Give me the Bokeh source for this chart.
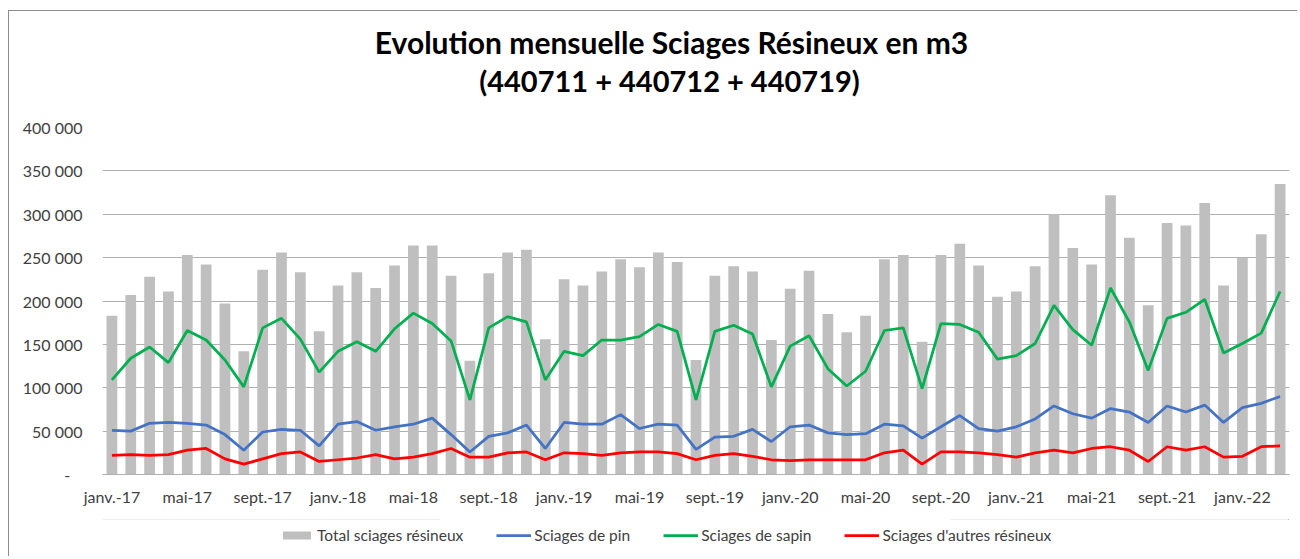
from bokeh.plotting import figure
from bokeh.layouts import column
from bokeh.models import (ColumnDataSource, FixedTicker, CustomJSTickFormatter, Legend,
                          LegendItem, Label, Range1d)
from bokeh.embed import file_html
from bokeh.resources import INLINE

# ---- data (m3) ----
month_names = ["janv.", "févr.", "mars", "avr.", "mai", "juin",
               "juil.", "août", "sept.", "oct.", "nov.", "déc."]
years = ["17", "18", "19", "20", "21", "22"]
months = [f"{m}-{y}" for y in years for m in month_names][:63]

total = [183, 207, 228, 211, 253, 242, 197, 142, 236, 256, 233, 165,
         218, 233, 215, 241, 264, 264, 229, 131, 232, 256, 259, 156,
         225, 218, 234, 248, 239, 256, 245, 132, 229, 240, 234, 155,
         214, 235, 185, 164, 183, 248, 253, 153, 253, 266, 241, 205,
         211, 240, 300, 261, 242, 322, 273, 195, 290, 287, 313, 218,
         250, 277, 335]
sapin = [109, 134, 147, 129, 166, 155, 132, 101, 169, 180, 156, 118,
         142, 153, 142, 168, 186, 174, 154, 86, 169, 182, 176, 109,
         142, 137, 155, 155, 159, 173, 165, 86, 165, 172, 162, 101,
         148, 160, 122, 102, 119, 166, 169, 99, 174, 173, 164, 133,
         137, 151, 195, 167, 149, 215, 176, 120, 180, 187, 202, 140,
         151, 163, 211]
pin = [51, 50, 59, 60, 59, 57, 46, 28, 49, 52, 51, 33,
       58, 61, 51, 55, 58, 65, 46, 26, 44, 48, 57, 30,
       60, 58, 58, 69, 53, 58, 57, 29, 43, 44, 52, 38,
       55, 57, 48, 46, 47, 58, 56, 42, 55, 68, 53, 50,
       55, 64, 79, 70, 65, 76, 72, 60, 79, 72, 80, 60,
       77, 82, 90]
autres = [22, 23, 22, 23, 28, 30, 18, 12, 18, 24, 26, 15,
          17, 19, 23, 18, 20, 24, 30, 20, 20, 25, 26, 17,
          25, 24, 22, 25, 26, 26, 24, 17, 22, 24, 21, 17,
          16, 17, 17, 17, 17, 25, 28, 12, 26, 26, 25, 23,
          20, 25, 28, 25, 30, 32, 28, 15, 32, 28, 32, 20,
          21, 32, 33]
y_ticks = [0, 50000, 100000, 150000, 200000, 250000, 300000, 350000, 400000]
title_lines = ["Evolution mensuelle Sciages Résineux en m3",
               "(440711 + 440712 + 440719)"]
series_labels = ["Total sciages résineux", "Sciages de pin",
                 "Sciages de sapin", "Sciages d'autres résineux"]

FONT = "Lato"
TXT = "#404040"
GRID = "#b0b0b0"
BORDER = "1px solid #8c8c8c"
C_TOT, C_PIN, C_SAP, C_AUT = "#bfbfbf", "#4472c4", "#00b050", "#ff0000"
W = 1289
BL, BR = 93, 10

src = ColumnDataSource(dict(
    x=list(range(len(months))),
    month=months,
    total=[v * 1000 for v in total],
    sapin=[v * 1000 for v in sapin],
    pin=[v * 1000 for v in pin],
    autres=[v * 1000 for v in autres],
))


def strip(height):
    f = figure(width=W, height=height, output_backend="svg", toolbar_location=None,
               x_range=Range1d(0, 1), y_range=Range1d(-2, -1),
               min_border_left=BL, min_border_right=BR, min_border_top=0,
               min_border_bottom=0, outline_line_color=None,
               background_fill_color="white", border_fill_color="white")
    f.axis.visible = False
    f.grid.visible = False
    return f


# ---- title strip ----
tfig = strip(100)
tfig.margin = (10, 0, 0, 8)
tfig.styles = {"border-top": BORDER, "border-left": BORDER}
tfig.add_layout(Label(x=569, y=70, x_units="screen", y_units="screen",
                      text=title_lines[0], text_align="center",
                      text_baseline="alphabetic", text_font=FONT,
                      text_font_size="30px", text_font_style="bold", text_color="black"))
tfig.add_layout(Label(x=567, y=31, x_units="screen", y_units="screen",
                      text=title_lines[1], text_align="center",
                      text_baseline="alphabetic", text_font=FONT,
                      text_font_size="29px", text_font_style="bold", text_color="black"))

# ---- main chart ----
FW, FH = W - BL - BR, 347
p = figure(frame_width=FW, frame_height=FH, output_backend="svg", toolbar_location=None,
           x_range=Range1d(-0.5, len(months) - 0.5), y_range=Range1d(0, 400000),
           min_border_left=BL, min_border_right=BR, min_border_top=17,
           min_border_bottom=45, outline_line_color=None,
           background_fill_color="white", border_fill_color="white")
p.margin = (0, 0, 0, 8)
p.styles = {"border-left": BORDER}

p.vbar(x="x", top="total", width=0.57, fill_color=C_TOT, line_color=None, source=src)
p.line(x="x", y="pin", line_color=C_PIN, line_width=2.75, source=src)
p.line(x="x", y="sapin", line_color=C_SAP, line_width=2.75, source=src)
p.line(x="x", y="autres", line_color=C_AUT, line_width=2.75, source=src)

yax = p.yaxis[0]
yax.ticker = FixedTicker(ticks=y_ticks)
yax.formatter = CustomJSTickFormatter(code="""
    if (tick == 0) { return "-\\u00a0\\u00a0\\u00a0"; }
    return Math.round(tick).toString().replace(/\\B(?=(\\d{3})+(?!\\d))/g, " ");
""")
yax.axis_line_color = None
yax.major_tick_line_color = None
yax.minor_tick_line_color = None
yax.major_tick_out = 0
yax.major_tick_in = 0
yax.major_label_standoff = 20
yax.major_label_text_font = FONT
yax.major_label_text_font_size = "16px"
yax.major_label_text_color = TXT

xt = list(range(0, len(months), 4))
xax = p.xaxis[0]
xax.ticker = FixedTicker(ticks=xt)
xax.major_label_overrides = {i: months[i] for i in xt}
xax.axis_line_color = GRID
xax.axis_line_width = 1
xax.major_tick_line_color = None
xax.minor_tick_line_color = None
xax.major_tick_out = 0
xax.major_tick_in = 0
xax.major_label_standoff = 12
xax.major_label_text_font = FONT
xax.major_label_text_font_size = "16px"
xax.major_label_text_color = TXT

p.xgrid.grid_line_color = None
p.ygrid.ticker = FixedTicker(ticks=y_ticks[1:])
p.ygrid.grid_line_color = GRID
p.ygrid.grid_line_width = 1

# ---- legend strip (proxies use the same data, kept outside the strip's view) ----
lg = strip(37)
lg.margin = (0, 0, 0, 8)
lg.styles = {"border-left": BORDER}
g_tot = lg.vbar(x="x", top="total", width=0.57, fill_color=C_TOT, line_color=None,
                source=src)
g_pin = lg.line(x="x", y="pin", line_color=C_PIN, line_width=2.75, source=src)
g_sap = lg.line(x="x", y="sapin", line_color=C_SAP, line_width=2.75, source=src)
g_aut = lg.line(x="x", y="autres", line_color=C_AUT, line_width=2.75, source=src)

legend = Legend(items=[LegendItem(label=l, renderers=[r]) for l, r in
                       zip(series_labels, [g_tot, g_pin, g_sap, g_aut])],
                orientation="horizontal", location=(177, 12), glyph_width=35,
                glyph_height=10, label_standoff=3, spacing=33, padding=0, margin=0,
                border_line_color=None, background_fill_alpha=0,
                label_text_font=FONT, label_text_font_size="15.5px",
                label_text_color=TXT, label_height=16)
lg.add_layout(legend, "center")

layout = column(tfig, p, lg, spacing=0)
open("out.html", "w").write(file_html(layout, INLINE))
